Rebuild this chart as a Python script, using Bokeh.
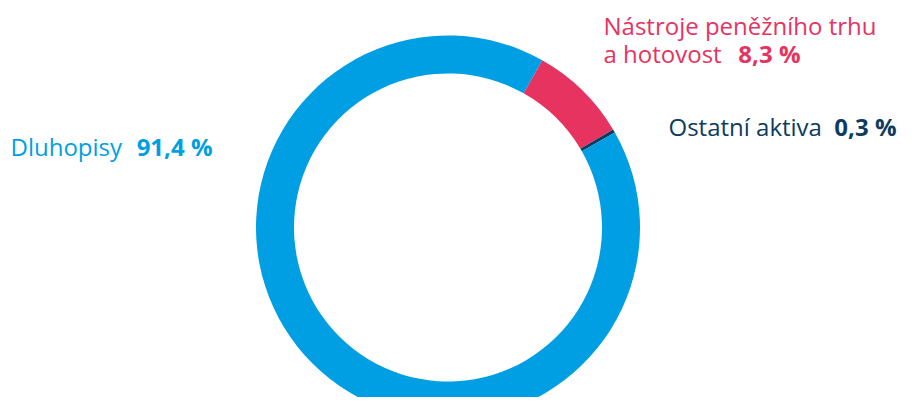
import math
from bokeh.plotting import figure
from bokeh.models import ColumnDataSource, Range1d
from bokeh.core.properties import value
from bokeh.embed import file_html
from bokeh.resources import INLINE

# data
categories = ["Nástroje peněžního trhu a hotovost", "Ostatní aktiva", "Dluhopisy"]
shares = [8.3, 0.3, 91.4]
colors = ["#E6335F", "#0D3C61", "#009FE3"]
label_lines = [["Nástroje peněžního trhu", "a hotovost"], ["Ostatní aktiva"], ["Dluhopisy"]]
value_labels = ["8,3 %", "0,3 %", "91,4 %"]

W, H = 898, 397
TY = 10  # text baseline correction

def px(x):
    return x

def py(y):
    return H - y

p = figure(width=W, height=H, output_backend="svg", toolbar_location=None,
           x_range=Range1d(0, W), y_range=Range1d(0, H),
           x_axis_type=None, y_axis_type=None, min_border=0,
           background_fill_color="white", border_fill_color="white")
p.outline_line_color = None
p.grid.visible = False

cx, cy = px(447.5), py(227)
start = math.radians(90 - 29.4)
total = sum(shares)
starts, ends = [], []
a = start
for s in shares:
    starts.append(a)
    a = a - s / total * 2 * math.pi
    ends.append(a)

src = ColumnDataSource(dict(cat=categories, start=starts, end=ends, color=colors))
p.annular_wedge(x=cx, y=cy, inner_radius=154, outer_radius=192,
                start_angle="end", end_angle="start", color="color",
                line_color=None, source=src)

font = value("Open Sans")
fs = "24px"
# Nástroje label (two lines)
p.text(x=[px(603), px(603)], y=[py(35 - TY), py(63 - TY)], text=label_lines[0],
       text_color=colors[0], text_font=font, text_font_size=fs,
       text_baseline="alphabetic", text_align="left")
p.text(x=[px(800)], y=[py(63 - TY)], text=[value_labels[0]], text_color=colors[0],
       text_font=font, text_font_size=fs, text_font_style="bold",
       text_baseline="alphabetic", text_align="right")
# Ostatní
p.text(x=[px(668)], y=[py(136 - TY)], text=label_lines[1], text_color=colors[1],
       text_font=font, text_font_size=fs, text_baseline="alphabetic")
p.text(x=[px(896)], y=[py(136 - TY)], text=[value_labels[1]], text_color=colors[1],
       text_font=font, text_font_size=fs, text_font_style="bold",
       text_baseline="alphabetic", text_align="right")
# Dluhopisy
p.text(x=[px(10)], y=[py(156 - TY)], text=label_lines[2], text_color=colors[2],
       text_font=font, text_font_size=fs, text_baseline="alphabetic")
p.text(x=[px(212)], y=[py(156 - TY)], text=[value_labels[2]], text_color=colors[2],
       text_font=font, text_font_size=fs, text_font_style="bold",
       text_baseline="alphabetic", text_align="right")

open("out.html", "w").write(file_html(p, INLINE))
